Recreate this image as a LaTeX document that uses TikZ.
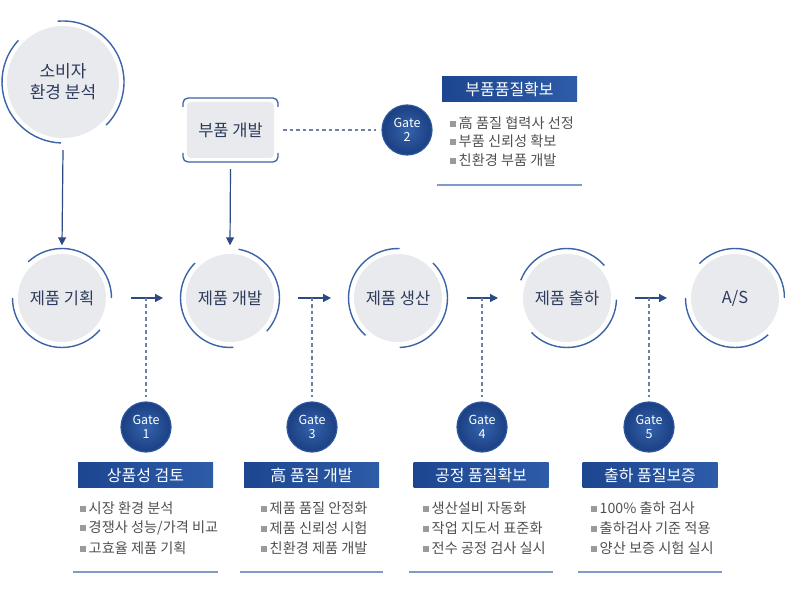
\documentclass[tikz,border=0pt]{standalone}
\usepackage{fontspec}
\setmainfont{Noto Sans CJK KR}
\usetikzlibrary{arrows.meta,calc}
\definecolor{cgray}{HTML}{E9EAEE}
\definecolor{ringblue}{HTML}{3B63A5}
\definecolor{ctext}{HTML}{2D3C5C}
\definecolor{itemtext}{HTML}{505050}
\definecolor{bulgray}{HTML}{9A9A9A}
\definecolor{arrowblue}{HTML}{2C4B85}
\definecolor{dashblue}{HTML}{6B7FA8}
\definecolor{ulblue}{HTML}{7F9ACB}
\definecolor{gatein}{HTML}{3463AC}
\definecolor{gateout}{HTML}{1B3F82}
\definecolor{gateedge}{HTML}{2C579F}
\definecolor{hdrleft}{HTML}{1D4690}
\definecolor{hdrright}{HTML}{2D5CA8}
\newcommand\ringarc[4]{\draw[ringline] ($(#1)+(#2:#4pt)$) arc[start angle=#2, end angle=#3, radius=#4pt];}
\newcommand\bsq{\textcolor{bulgray}{\raisebox{1.8pt}{\rule{6pt}{6pt}}}\hspace{2.5pt}}
\begin{document}
\begin{tikzpicture}[x=1pt,y=1pt,
  circ/.style={circle, fill=cgray, minimum size=88pt, inner sep=0pt, text=ctext, font=\fontsize{16.5}{21}\selectfont, align=center},
  bigcirc/.style={circ, minimum size=112pt, font=\fontsize{17}{21}\selectfont},
  ringline/.style={draw=ringblue, line width=1.4pt},
  gate/.style={circle, minimum size=50pt, inner sep=0pt, inner color=gatein, outer color=gateout, draw=gateedge, line width=1.2pt, text=white, font=\fontsize{12.5}{14}\selectfont, align=center},
  hdr/.style={minimum width=135pt, minimum height=25pt, inner sep=0pt, left color=hdrleft, right color=hdrright, text=white, font=\fontsize{16}{18}\selectfont},
  item/.style={anchor=west, inner sep=0pt, text=itemtext, font=\fontsize{14.2}{16}\selectfont},
  flow/.style={draw=arrowblue, line width=1.2pt, -{Triangle[length=8pt,width=8pt]}},
  gdash/.style={draw=dashblue, line width=1.2pt, dash pattern=on 3.5pt off 3pt},
  uline/.style={draw=ulblue, line width=1.3pt}
]
\useasboundingbox (0,0) rectangle (785,595);

% top circle
\node[bigcirc] (c0) at (63,513) {소비자\\환경 분석};
\ringarc{c0}{95}{-45}{61}
\ringarc{c0}{137}{268}{61}

% part development box
\node[fill=cgray, rounded corners=4pt, minimum width=87pt, minimum height=56pt, inner sep=0pt, text=ctext, font=\fontsize{16.5}{18}\selectfont] (pbox) at (230.5,465) {부품 개발};
\draw[ringline, line width=1.3pt] (183,488) -- (183,492) arc[start angle=180,end angle=90,radius=5pt] -- (273,497) arc[start angle=90,end angle=0,radius=5pt] -- (278,488);
\draw[ringline, line width=1.3pt] (183,442) -- (183,438) arc[start angle=180,end angle=270,radius=5pt] -- (273,433) arc[start angle=270,end angle=360,radius=5pt] -- (278,442);

% main row
\node[circ] (c1) at (62,297) {제품 기획};
\node[circ] (c2) at (230,297) {제품 개발};
\node[circ] (c3) at (398,297) {제품 생산};
\node[circ] (c4) at (567,297) {제품 출하};
\node[circ] (c5) at (735,297) {A/S};
\ringarc{c1}{133}{0}{49.5}
\ringarc{c1}{180}{320}{49.5}
\ringarc{c2}{80}{-42}{49.5}
\ringarc{c2}{135}{274}{49.5}
\ringarc{c3}{88}{229}{49.5}
\ringarc{c3}{45}{-88}{49.5}
\ringarc{c4}{41}{159}{49.5}
\ringarc{c4}{224}{358}{49.5}
\ringarc{c5}{136}{0}{49.5}
\ringarc{c5}{180}{312}{49.5}

% vertical arrows
\draw[flow] ([yshift=-12pt]c0.south) -- ([yshift=8.5pt]c1.north);
\draw[flow] ([yshift=-11pt]pbox.south) -- ([yshift=8.5pt]c2.north);

% gate 2
\node[gate] (g2) at (407,465) {Gate\\2};
\draw[gdash] ([xshift=9pt]pbox.east) -- ([xshift=-5pt]g2.west);
\node[hdr] (h0) at (509.5,505.5) {부품품질확보};
\node[item] (t01) at (450,472) {\bsq 高 품질 협력사 선정};
\node[item] (t02) at (450,453.5) {\bsq 부품 신뢰성 확보};
\node[item] (t03) at (450,435) {\bsq 친환경 부품 개발};
\draw[uline] (437,410) -- (582,410);

% horizontal arrows + junctions
\coordinate (a1s) at (131,297); \coordinate (a1e) at (163,297); \coordinate (j1) at (146,297);
\coordinate (a2s) at (298,297); \coordinate (a2e) at (331,297); \coordinate (j2) at (312,297);
\coordinate (a3s) at (467,297); \coordinate (a3e) at (498,297); \coordinate (j3) at (482,297);
\coordinate (a4s) at (635,297); \coordinate (a4e) at (667,297); \coordinate (j4) at (649,297);
\draw[flow] (a1s) -- (a1e);
\draw[flow] (a2s) -- (a2e);
\draw[flow] (a3s) -- (a3e);
\draw[flow] (a4s) -- (a4e);

% gates
\node[gate] (g1) at (146,168) {Gate\\1};
\node[gate] (g3) at (312,168) {Gate\\3};
\node[gate] (g4) at (482,168) {Gate\\4};
\node[gate] (g5) at (649,168) {Gate\\5};
\draw[gdash] (j1) -- ([yshift=4pt]g1.north);
\draw[gdash] (j2) -- ([yshift=4pt]g3.north);
\draw[gdash] (j3) -- ([yshift=4pt]g4.north);
\draw[gdash] (j4) -- ([yshift=4pt]g5.north);

% headers
\node[hdr] (h1) at (145.5,119.5) {상품성 검토};
\node[hdr] (h2) at (311.5,119.5) {高 품질 개발};
\node[hdr] (h3) at (481,119.5) {공정 품질확보};
\node[hdr] (h4) at (650,119.5) {출하 품질보증};

% items
\node[item] (t11) at (80,87) {\bsq 시장 환경 분석};
\node[item] (t12) at (80,67) {\bsq 경쟁사 성능/가격 비교};
\node[item] (t13) at (80,47) {\bsq 고효율 제품 기획};
\node[item] (t21) at (261,87) {\bsq 제품 품질 안정화};
\node[item] (t22) at (261,67) {\bsq 제품 신뢰성 시험};
\node[item] (t23) at (261,47) {\bsq 친환경 제품 개발};
\node[item] (t31) at (423,87) {\bsq 생산설비 자동화};
\node[item] (t32) at (423,67) {\bsq 작업 지도서 표준화};
\node[item] (t33) at (423,47) {\bsq 전수 공정 검사 실시};
\node[item] (t41) at (591,87) {\bsq 100\% 출하 검사};
\node[item] (t42) at (591,67) {\bsq 출하검사 기준 적용};
\node[item] (t43) at (591,47) {\bsq 양산 보증 시험 실시};

% underlines
\draw[uline] (73,23) -- (218,23);
\draw[uline] (240,23) -- (383,23);
\draw[uline] (409,23) -- (553,23);
\draw[uline] (578,23) -- (722,23);
\end{tikzpicture}
\end{document}
